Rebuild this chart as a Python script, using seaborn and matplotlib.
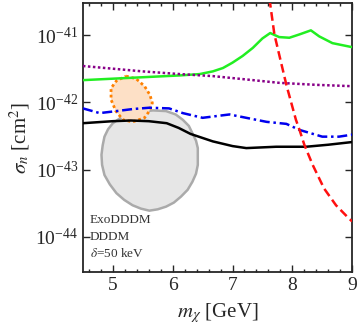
import numpy as np
import pandas as pd
import seaborn as sns
import matplotlib.pyplot as plt
from matplotlib.ticker import FixedLocator, LogFormatterMathtext, MultipleLocator, NullLocator

# mass grid [GeV] and log10(sigma_n / cm^2) for each curve
green_m = [4.5, 6.12, 6.45, 6.67, 6.84, 7.0, 7.17, 7.34, 7.5, 7.63, 7.78, 7.95, 8.12, 8.31, 8.45, 8.67, 9.0]
green_logs = [-41.67, -41.60, -41.58, -41.54, -41.49, -41.41, -41.31, -41.19, -41.05, -40.97, -41.03, -41.04, -40.99, -40.93, -41.02, -41.12, -41.18]

purple_m = [4.5, 5.0, 5.5, 6.12, 6.67, 7.23, 7.78, 8.4, 9.0]
purple_logs = [-41.46, -41.50, -41.54, -41.58, -41.61, -41.66, -41.71, -41.74, -41.76]

blue_m = [4.5, 4.78, 5.06, 5.33, 5.61, 5.94, 6.17, 6.5, 6.95, 7.23, 7.57, 7.9, 8.12, 8.5, 8.78, 9.0]
blue_logs = [-42.09, -42.16, -42.13, -42.10, -42.08, -42.09, -42.16, -42.23, -42.18, -42.23, -42.29, -42.32, -42.41, -42.51, -42.51, -42.48]

black_m = [4.5, 5.0, 5.3, 5.6, 5.9, 6.1, 6.3, 6.67, 7.0, 7.23, 7.73, 8.23, 8.6, 9.0]
black_logs = [-42.31, -42.28, -42.27, -42.28, -42.31, -42.38, -42.47, -42.58, -42.65, -42.68, -42.66, -42.66, -42.63, -42.59]

red_m = [7.60, 7.63, 7.70, 7.90, 8.06, 8.12, 8.20, 8.34, 8.53, 8.73, 8.95, 9.0]
red_logs = [-40.40, -40.54, -40.99, -41.74, -42.26, -42.41, -42.63, -42.93, -43.28, -43.53, -43.73, -43.77]

# closed regions
gray_m = [5.67, 5.89, 6.05, 6.17, 6.27, 6.33, 6.39, 6.42, 6.42, 6.39, 6.33, 6.25, 6.14, 6.02, 5.89, 5.75,
          5.61, 5.47, 5.33, 5.19, 5.06, 4.95, 4.86, 4.82, 4.81, 4.83, 4.86, 4.92, 5.0, 5.13, 5.28, 5.47]
gray_logs = [-42.12, -42.13, -42.18, -42.26, -42.35, -42.46, -42.57, -42.68, -42.93, -43.06, -43.18, -43.30, -43.40, -43.49,
             -43.55, -43.59, -43.61, -43.58, -43.53, -43.45, -43.35, -43.22, -43.08, -42.93, -42.78, -42.64, -42.51, -42.40,
             -42.31, -42.23, -42.18, -42.14]

orange_m = [5.22, 5.39, 5.53, 5.62, 5.66, 5.61, 5.53, 5.33, 5.17, 5.05, 4.97, 4.97, 5.06]
orange_logs = [-41.61, -41.65, -41.76, -41.89, -42.01, -42.13, -42.23, -42.29, -42.26, -42.13, -41.96, -41.79, -41.68]

y_ticks = [1e-44, 1e-43, 1e-42, 1e-41]
label_lines = ["ExoDDDM", "DDDM", r"$\delta$=50 keV"]

sns.set_style("ticks")
plt.rcParams['font.family'] = ['Liberation Serif', 'DejaVu Serif']
plt.rcParams['mathtext.fontset'] = 'stix'

fig = plt.figure(figsize=(3.59, 3.29), dpi=100)
ax = fig.add_axes([0.231, 0.173, 0.75, 0.818])

def tolin(logs):
    return 10.0 ** np.array(logs)

ax.fill(gray_m + gray_m[:1], tolin(gray_logs + gray_logs[:1]), facecolor='#e6e6e6',
        edgecolor='#aaaaaa', linewidth=1.8, zorder=1)
ax.fill(orange_m + orange_m[:1], tolin(orange_logs + orange_logs[:1]), facecolor='#fde0c6',
        edgecolor='#ff8000', linewidth=2.0, linestyle=(0, (1, 1)), zorder=2)

curves = [
    (green_m, green_logs, '#22ee22', '-'),
    (purple_m, purple_logs, '#880088', (0, (1, 1))),
    (blue_m, blue_logs, '#0000ee', (0, (4, 1.5, 1, 1.5))),
    (black_m, black_logs, 'black', '-'),
    (red_m, red_logs, '#ff1010', (0, (3.5, 1.8))),
]
for m, logs, col, ls in curves:
    df = pd.DataFrame({'m': m, 's': tolin(logs)})
    sns.lineplot(data=df, x='m', y='s', ax=ax, color=col, linewidth=1.8,
                 linestyle=ls, sort=False, estimator=None, zorder=3)

ax.set_yscale('log')
ax.set_xlim(4.5, 9)
ax.set_ylim(3e-45, 3e-41)
ax.yaxis.set_major_locator(FixedLocator(y_ticks))
ax.yaxis.set_major_formatter(LogFormatterMathtext())
ax.yaxis.set_minor_locator(NullLocator())
ax.xaxis.set_major_locator(MultipleLocator(1))
ax.xaxis.set_minor_locator(MultipleLocator(0.2))
ax.tick_params(which='both', direction='in', top=True, right=True, labelsize=14, width=1)
ax.tick_params(which='major', length=5)
ax.tick_params(which='minor', length=2.5)
for sp in ax.spines.values():
    sp.set_linewidth(1.3)

ax.set_xlabel(r'$m_\chi$ [GeV]', fontsize=15, labelpad=5)
ax.set_ylabel(r'$\sigma_n$ [cm$^2$]', fontsize=15, labelpad=2)

for i, t in enumerate(label_lines):
    ax.text(0.025, 0.194 - i * 0.062, t, transform=ax.transAxes, fontsize=9.5, color='#333333',
            va='center', ha='left')

fig.savefig('out.png', dpi=100)
